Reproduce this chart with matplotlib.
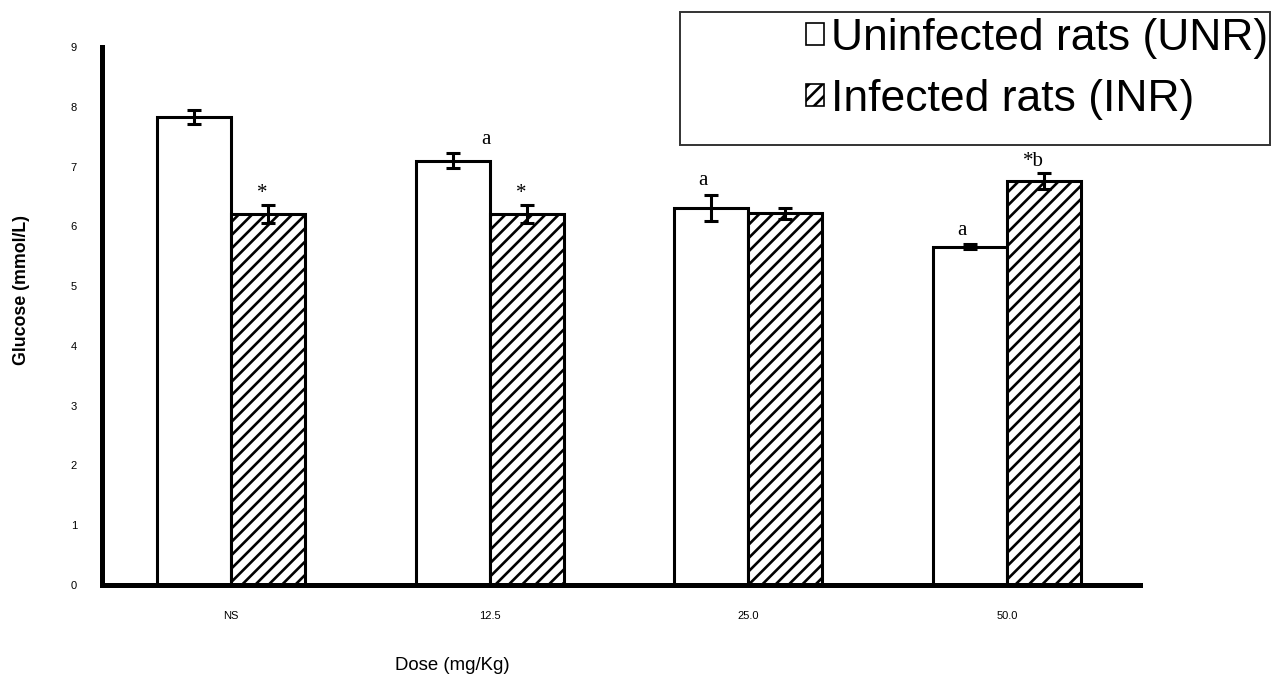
import matplotlib
matplotlib.use("Agg")
import numpy as np
import matplotlib.pyplot as plt
from matplotlib.patches import Rectangle

# Dữ liệu
doses = ["NS", "12.5", "25.0", "50.0"]
unr = [7.83, 7.10, 6.31, 5.66]
unr_err = [0.12, 0.13, 0.22, 0.04]
inr = [6.21, 6.21, 6.22, 6.76]
inr_err = [0.15, 0.15, 0.09, 0.14]
unr_marks = ["", "a", "a", "a"]
inr_marks = ["*", "*", "", "*b"]

plt.rcParams["font.family"] = ["Liberation Sans", "DejaVu Sans"]
plt.rcParams["hatch.linewidth"] = 0.95
plt.rcParams["hatch.color"] = "black"

fig = plt.figure(figsize=(6.39, 3.405), dpi=200)
ax = fig.add_axes([102 / 1278, 1 - 585 / 681, 1038 / 1278, 538 / 681])

x = np.arange(len(doses))
w = 0.286

err_kw = dict(elinewidth=1.1, capsize=2.6, capthick=1.1, ecolor="black")
ax.bar(x - w / 2, unr, w, yerr=unr_err, color="white", edgecolor="black",
       linewidth=1.1, error_kw=err_kw, label="Uninfected rats (UNR)", zorder=2)
ax.bar(x + w / 2, inr, w, yerr=inr_err, color="white", edgecolor="black",
       linewidth=1.1, hatch="/////", error_kw=err_kw, label="Infected rats (INR)", zorder=2)

# Chữ đánh dấu (a, *, *b)
unr_dx = [0, 12, -3, -3]
inr_dx = [-2, -2, 0, -4]
for i in range(len(doses)):
    if unr_marks[i]:
        ax.annotate(unr_marks[i], (x[i] - w / 2, unr[i] + unr_err[i]),
                    xytext=(unr_dx[i], 1.5), textcoords="offset points",
                    ha="center", va="bottom", fontsize=7.5, family="Liberation Serif")
    if inr_marks[i]:
        ax.annotate(inr_marks[i], (x[i] + w / 2, inr[i] + inr_err[i]),
                    xytext=(inr_dx[i], 0.5), textcoords="offset points",
                    ha="center", va="bottom", fontsize=7.5, family="Liberation Serif")

ax.set_xlim(-0.499, 3.514)
ax.set_ylim(0, 9)
ax.set_yticks(range(0, 10))
ax.set_xticks(x)
ax.set_xticklabels(doses)
ax.tick_params(axis="y", length=0, pad=9, labelsize=4)
ax.tick_params(axis="x", length=0, pad=9.5, labelsize=4)

for s in ["top", "right"]:
    ax.spines[s].set_visible(False)
for s in ["left", "bottom"]:
    ax.spines[s].set_linewidth(1.8)

fig.text(22 / 1278, 1 - 290 / 681, "Glucose (mmol/L)", rotation=90,
         ha="center", va="center", fontsize=6.4, fontweight="bold")
fig.text(452 / 1278, 1 - 665 / 681, "Dose (mg/Kg)",
         ha="center", va="center", fontsize=6.7)

# Chú thích
fig.patches.append(Rectangle((680 / 1278, 1 - 145 / 681), 590 / 1278, 133 / 681,
                             transform=fig.transFigure, fill=False,
                             edgecolor="#333333", linewidth=0.7))
leg = ax.legend(loc="upper right", bbox_to_anchor=(1268 / 1278, 1 - 18 / 681),
                bbox_transform=fig.transFigure, frameon=False, fontsize=16,
                handlelength=0.4, handleheight=0.4, handletextpad=0.15,
                labelspacing=0.45, borderpad=0, borderaxespad=0)
for h in leg.legend_handles:
    h.set_linewidth(0.6)

plt.savefig("out.png", dpi=200)
plt.close()
